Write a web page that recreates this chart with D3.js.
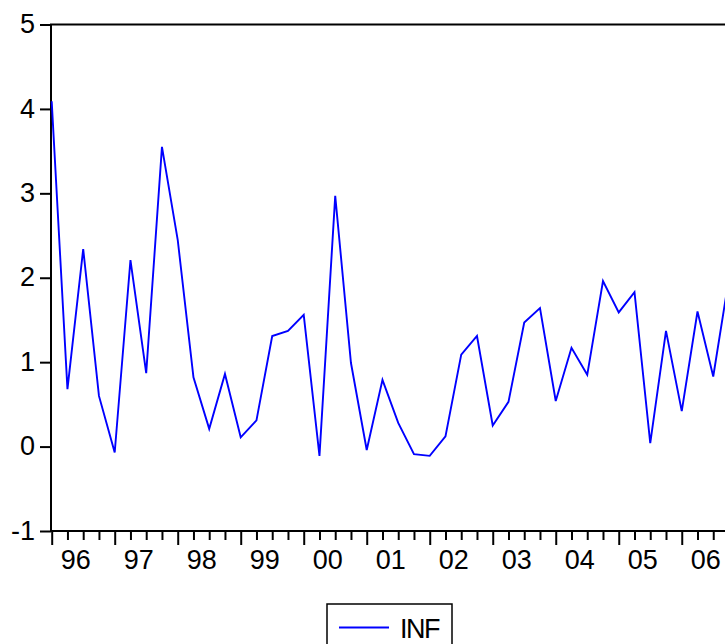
<!DOCTYPE html>
<html>
<head>
<meta charset="utf-8">
<script src="https://cdn.jsdelivr.net/npm/d3@7/dist/d3.min.js"></script>
<style>
  html, body { margin: 0; padding: 0; background: #fff; overflow: hidden; }
  svg { display: block; }
  text { font-family: "Liberation Sans", Arial, sans-serif; fill: #000; }
</style>
</head>
<body>
<svg id="chart" width="725" height="644"></svg>
<script>
// Quarterly inflation, 1996Q1 - 2006Q4
const years = ["96", "97", "98", "99", "00", "01", "02", "03", "04", "05", "06"];
const quartersPerYear = 4;
const inf = [
  4.09, 0.68, 2.34, 0.60,
  -0.07, 2.21, 0.87, 3.55,
  2.45, 0.82, 0.21, 0.86,
  0.11, 0.31, 1.31, 1.37,
  1.56, -0.11, 2.97, 0.99,
  -0.04, 0.79, 0.28, -0.09,
  -0.11, 0.12, 1.09, 1.31,
  0.25, 0.53, 1.47, 1.64,
  0.54, 1.17, 0.85, 1.96,
  1.59, 1.83, 0.04, 1.37,
  0.42, 1.60, 0.83, 2.00
];
const yTicks = [-1, 0, 1, 2, 3, 4, 5];
const seriesName = "INF";

const svg = d3.select("#chart");
const plotLeft = 51, plotTop = 24.5, plotBottom = 531, plotRight = 729;
const fontSize = "27px";

const x = d3.scaleLinear().domain([0, inf.length - 1]).range([plotLeft + 0.7, plotRight]);
const y = d3.scaleLinear().domain([-1, 5]).range([plotBottom, plotTop]);

// y axis (plain hyphen for negatives)
const yAxis = svg.append("g")
  .attr("transform", `translate(${plotLeft},0)`)
  .call(d3.axisLeft(y).tickValues(yTicks).tickSize(11).tickPadding(5).tickFormat(d => String(d)));
yAxis.select(".domain").remove();
yAxis.selectAll("line").attr("stroke", "#000").attr("stroke-width", 2);
yAxis.selectAll("text").style("font-size", fontSize).attr("dy", "0.3em");

// x axis: minor ticks every quarter, major ticks at year starts
const idx = d3.range(inf.length);
const minor = svg.append("g")
  .attr("transform", `translate(0,${plotBottom})`)
  .call(d3.axisBottom(x).tickValues(idx.filter(i => i % quartersPerYear !== 0)).tickSize(9).tickFormat(""));
minor.select(".domain").remove();
minor.selectAll("line").attr("stroke", "#000").attr("stroke-width", 2);

const major = svg.append("g")
  .attr("transform", `translate(0,${plotBottom})`)
  .call(d3.axisBottom(x).tickValues(idx.filter(i => i % quartersPerYear === 0)).tickSize(14).tickFormat(""));
major.select(".domain").remove();
major.selectAll("line").attr("stroke", "#000").attr("stroke-width", 2);

// year labels centred between first and last quarter of each year
const labels = svg.append("g")
  .attr("transform", `translate(0,${plotBottom})`)
  .call(d3.axisBottom(x)
    .tickValues(years.map((_, i) => i * quartersPerYear + 1.5))
    .tickSize(0).tickPadding(19)
    .tickFormat((d, i) => years[i]));
labels.select(".domain").remove();
labels.selectAll("text").style("font-size", fontSize);

// frame
svg.append("rect")
  .attr("x", plotLeft).attr("y", plotTop)
  .attr("width", plotRight + 4 - plotLeft).attr("height", plotBottom - plotTop)
  .attr("fill", "none").attr("stroke", "#000").attr("stroke-width", 2);

// series line
svg.append("path")
  .datum(inf)
  .attr("fill", "none")
  .attr("stroke", "#0000ff")
  .attr("stroke-width", 1.9)
  .attr("stroke-linejoin", "miter")
  .attr("d", d3.line().x((d, i) => x(i)).y(d => y(d)));

// legend
const lg = svg.append("g");
lg.append("rect")
  .attr("x", 327).attr("y", 604).attr("width", 125).attr("height", 60)
  .attr("fill", "#fff").attr("stroke", "#000").attr("stroke-width", 1.5);
lg.append("line")
  .attr("x1", 339).attr("x2", 389).attr("y1", 627.5).attr("y2", 627.5)
  .attr("stroke", "#0000ff").attr("stroke-width", 1.9);
lg.append("text")
  .attr("x", 400).attr("y", 637.5)
  .style("font-size", fontSize).style("letter-spacing", "-1.5px")
  .text(seriesName);
</script>
</body>
</html>
